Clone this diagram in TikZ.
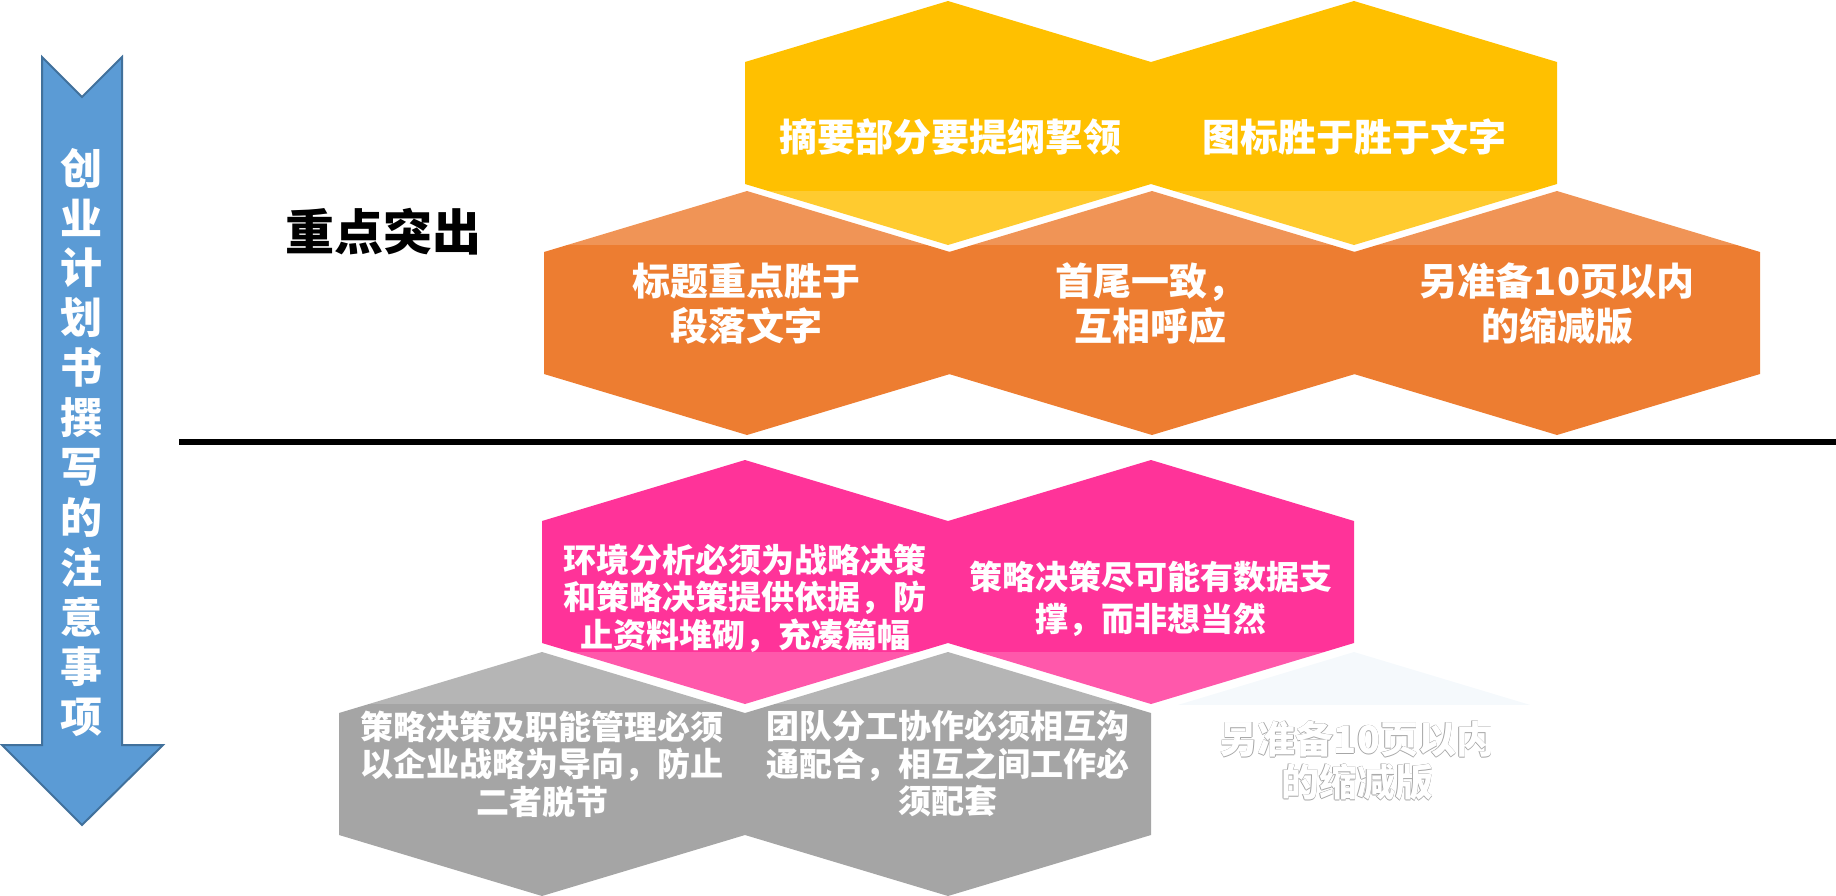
\documentclass[tikz,border=0pt]{standalone}
\usepackage{fontspec}
\newfontfamily\cjk{Noto Sans CJK SC}
\definecolor{arrowblue}{HTML}{5B9BD5}
\definecolor{arrowedge}{HTML}{41719C}
\definecolor{hexyellow}{HTML}{FFC000}
\definecolor{hexorange}{HTML}{ED7D31}
\definecolor{hexpink}{HTML}{FF3399}
\definecolor{hexgray}{HTML}{A5A5A5}
\definecolor{ghostblue}{HTML}{F5F9FC}
\tikzset{
  hexyel/.style={fill=hexyellow},
  hexora/.style={fill=hexorange},
  hexpin/.style={fill=hexpink},
  hexgry/.style={fill=hexgray},
  bigtxt/.style={text=white, align=center, inner sep=0pt,
    font=\cjk\bfseries\fontsize{19}{22.5}\selectfont},
  smalltxt/.style={text=white, align=center, inner sep=0pt,
    font=\cjk\bfseries\fontsize{16.5}{18.75}\selectfont},
  arrowtxt/.style={text=white, inner sep=0pt,
    font=\cjk\bfseries\fontsize{21}{21}\selectfont},
  ghosttxt/.style={align=center, inner sep=0pt,
    font=\cjk\bfseries\fontsize{19}{21.5}\selectfont},
}
\begin{document}
\begin{tikzpicture}[x=0.5pt,y=-0.5pt]
\useasboundingbox (0,0) rectangle (1836,895);

% ---- left arrow ----
\draw[fill=arrowblue, draw=arrowedge, line width=1pt, line join=miter]
  (42,57) -- (82,97) -- (122,57) -- (122,745) -- (163,745) -- (82,825)
  -- (2,745) -- (42,745) -- cycle;
\foreach \c [count=\i] in {创,业,计,划,书,撰,写,的,注,意,事,项}
  \node[arrowtxt] (arr\i) at (82,{168+49.9*(\i-1)}) {\c};

% ---- title ----
\node[inner sep=0pt, font=\cjk\bfseries\fontsize{24.5}{24.5}\selectfont] (title) at (383,232) {重点突出};

% ---- separator ----
\coordinate (lineL) at (179,442);
\coordinate (lineR) at (1836,442);
\draw[line width=3pt] (lineL) -- (lineR);

% ---- upper block: orange row (behind) ----
\foreach \cx in {747,1152,1557}
  \fill[hexora] (\cx,191) -- ++(203,61) -- ++(0,122) -- ++(-203,61) -- ++(-203,-61) -- ++(0,-122) -- cycle;
% yellow row
\foreach \cx in {948,1354}
  \fill[hexyel] (\cx,1) -- ++(203,61) -- ++(0,122) -- ++(-203,61) -- ++(-203,-61) -- ++(0,-122) -- cycle;
% light band
\fill[white, opacity=0.185] (540,191) rectangle (1765,245);

% ---- lower block: gray row (behind) ----
\foreach \cx in {542,948}
  \fill[hexgry] (\cx,652) -- ++(203,61) -- ++(0,122) -- ++(-203,61) -- ++(-203,-61) -- ++(0,-122) -- cycle;
% ghost hexagon top
\begin{scope}
  \clip (330,652) rectangle (1765,704);
  \fill[ghostblue] (1354,652) -- ++(203,61) -- ++(0,122) -- ++(-203,61) -- ++(-203,-61) -- ++(0,-122) -- cycle;
\end{scope}
% pink row
\foreach \cx in {745,1151}
  \fill[hexpin] (\cx,460) -- ++(203,61) -- ++(0,122) -- ++(-203,61) -- ++(-203,-61) -- ++(0,-122) -- cycle;
% light band over the pink hexagons and gray tops
\begin{scope}
  \clip (330,652) rectangle (1360,704);
  \fill[white, opacity=0.185] (330,652) rectangle (1151,704);
  \fill[white, opacity=0.185] (1151,460) -- ++(203,61) -- ++(0,122) -- ++(-203,61) -- cycle;
\end{scope}

% ---- texts ----
\node[bigtxt] (y1) at (950,137) {摘要部分要提纲挈领};
\node[bigtxt] (y2) at (1354,137) {图标胜于胜于文字};
\node[bigtxt] (o1) at (746,304) {标题重点胜于\\段落文字};
\node[bigtxt] (o2) at (1150,304) {首尾一致，\\互相呼应};
\node[bigtxt] (o3) at (1557,304) {另准备10页以内\\的缩减版};
\node[smalltxt] (p1) at (745,598) {环境分析必须为战略决策\\和策略决策提供依据，防\\止资料堆砌，充凑篇幅};
\node[smalltxt, font=\cjk\bfseries\fontsize{16.5}{21}\selectfont] (p2) at (1151,599) {策略决策尽可能有数据支\\撑，而非想当然};
\node[smalltxt] (g1) at (542,764) {策略决策及职能管理必须\\以企业战略为导向，防止\\二者脱节};
\node[smalltxt] (g2) at (948,764) {团队分工协作必须相互沟\\通配合，相互之间工作必\\须配套};

% ghost text (white with faint outline)
\foreach \dx/\dy [count=\k] in {-0.8/0,0.8/0,0/-0.8,0/0.8}
  \node[ghosttxt, text=black!35] (gs\k) at ({1357+\dx},{761+\dy}) {另准备10页以内\\的缩减版};
\node[ghosttxt, text=white] (gh) at (1357,761) {另准备10页以内\\的缩减版};
\end{tikzpicture}
\end{document}
